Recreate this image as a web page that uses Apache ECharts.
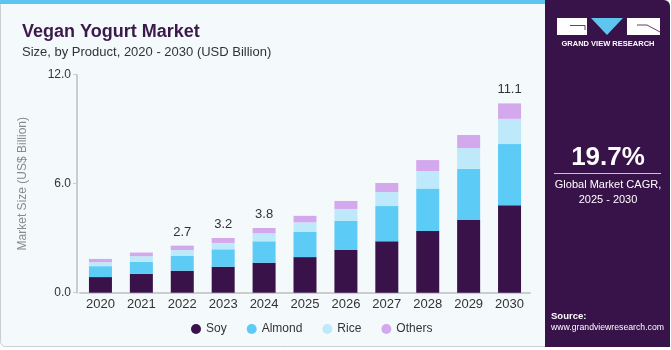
<!DOCTYPE html>
<html>
<head>
<meta charset="utf-8">
<script src="https://cdn.jsdelivr.net/npm/echarts@6/dist/echarts.min.js"></script>
<style>
  html, body { margin: 0; padding: 0; background: #ffffff; }
  #chart { width: 671px; height: 350px; }
</style>
</head>
<body>
<div id="chart"></div>
<script>
// Vegan yogurt market by product (USD billion)
const years = ["2020", "2021", "2022", "2023", "2024", "2025", "2026", "2027", "2028", "2029", "2030"];
const soy = [0.86, 1.04, 1.21, 1.43, 1.65, 1.96, 2.35, 2.83, 3.40, 4.00, 4.81];
const almond = [0.60, 0.66, 0.81, 0.96, 1.18, 1.38, 1.60, 1.94, 2.33, 2.82, 3.37];
const rice = [0.22, 0.31, 0.33, 0.35, 0.44, 0.53, 0.66, 0.77, 0.97, 1.14, 1.39];
const others = [0.18, 0.20, 0.24, 0.27, 0.29, 0.36, 0.44, 0.50, 0.60, 0.72, 0.85];
// printed totals above selected bars
const totalLabels = ["", "", "2.7", "3.2", "3.8", "", "", "", "", "", "11.1"];
const yTicks = [0, 6, 12];

const FONT = "'Liberation Sans', Arial, sans-serif";
const colors = { soy: "#381249", almond: "#5ccbf6", rice: "#bee9fa", others: "#d4a8ec" };

const chart = echarts.init(document.getElementById("chart"));

const bar = (name, data, color) => ({
  name,
  type: "bar",
  stack: "total",
  barWidth: 23,
  data,
  itemStyle: { color },
  emphasis: { disabled: true },
});

const othersSeries = bar("Others", others, colors.others);
othersSeries.label = {
  show: true,
  position: "top",
  distance: 7,
  color: "#333333",
  fontFamily: FONT,
  fontSize: 13,
  formatter: (p) => totalLabels[p.dataIndex],
};

chart.setOption({
  backgroundColor: "#ffffff",
  animation: false,
  textStyle: { fontFamily: FONT },
  title: [
    {
      text: "Vegan Yogurt Market",
      left: 17, top: 18,
      textStyle: { fontFamily: FONT, fontSize: 18, fontWeight: "bold", color: "#3b1a4b" },
    },
    {
      text: "Size, by Product, 2020 - 2030 (USD Billion)",
      left: 17, top: 41,
      textStyle: { fontFamily: FONT, fontSize: 13, fontWeight: "normal", color: "#333333" },
    },
  ],
  graphic: [
    // card background and top stripe
    { type: "rect", z: -10, shape: { x: 0.5, y: 0.5, width: 560, height: 346, r: 5 },
      style: { fill: "#f4f9fc", stroke: "#c9ced3", lineWidth: 1 } },
    { type: "rect", z: -9, shape: { x: 0, y: 0, width: 560, height: 4 }, style: { fill: "#5ec6ee" } },
    // right panel
    { type: "rect", z: -8, shape: { x: 545, y: 0, width: 125, height: 347, r: [0, 6, 0, 0] },
      style: { fill: "#381349" } },
    // logo
    { type: "rect", shape: { x: 557, y: 18, width: 30, height: 17 }, style: { fill: "#ffffff" } },
    { type: "polyline", shape: { points: [[570, 25.5], [585, 25.5], [585, 30]] },
      style: { stroke: "#381349", lineWidth: 0.8, fill: null } },
    { type: "polygon", shape: { points: [[591, 18], [623, 18], [607, 35]] }, style: { fill: "#5ec6ee" } },
    { type: "rect", shape: { x: 627, y: 18, width: 33, height: 17 }, style: { fill: "#ffffff" } },
    { type: "polyline", shape: { points: [[637, 25], [647, 25], [660, 32]] },
      style: { stroke: "#381349", lineWidth: 0.8, fill: null } },
    { type: "text", style: { x: 608, y: 44, text: "GRAND VIEW RESEARCH", align: "center", verticalAlign: "middle",
      fill: "#ffffff", font: "bold 7.5px " + FONT } },
    // CAGR
    { type: "text", style: { x: 608, y: 158, text: "19.7%", align: "center", verticalAlign: "middle",
      fill: "#ffffff", font: "bold 26px " + FONT } },
    { type: "line", shape: { x1: 554, y1: 173.5, x2: 661, y2: 173.5 }, style: { stroke: "#c9c2cf", lineWidth: 1 } },
    { type: "text", style: { x: 608, y: 185, text: "Global Market CAGR,", align: "center", verticalAlign: "middle",
      fill: "#ffffff", font: "11px " + FONT } },
    { type: "text", style: { x: 608, y: 200, text: "2025 - 2030", align: "center", verticalAlign: "middle",
      fill: "#ffffff", font: "11px " + FONT } },
    // source
    { type: "text", style: { x: 551, y: 316, text: "Source:", verticalAlign: "middle",
      fill: "#ffffff", font: "bold 9.5px " + FONT } },
    { type: "text", style: { x: 551, y: 328, text: "www.grandviewresearch.com", verticalAlign: "middle",
      fill: "#ffffff", font: "8.7px " + FONT } },
  ],
  legend: {
    left: 186,
    top: 318,
    icon: "circle",
    itemWidth: 10,
    itemHeight: 10,
    itemGap: 20,
    textStyle: { fontFamily: FONT, fontSize: 12, color: "#333333" },
    data: ["Soy", "Almond", "Rice", "Others"],
  },
  grid: { left: 80, right: 141, top: 74.7, bottom: 57.3 },
  xAxis: {
    type: "category",
    data: years,
    axisLine: { lineStyle: { color: "#cccccc", width: 2 } },
    axisTick: { show: false },
    axisLabel: { color: "#333333", fontSize: 13, margin: 5, fontFamily: FONT },
  },
  yAxis: {
    type: "value",
    min: yTicks[0],
    max: yTicks[yTicks.length - 1],
    interval: yTicks[1] - yTicks[0],
    offset: 3,
    name: "Market Size (US$ Billion)",
    nameLocation: "middle",
    nameGap: 48,
    nameTextStyle: { color: "#8a8a8a", fontSize: 12, fontFamily: FONT },
    splitLine: { show: false },
    axisLine: { show: true, lineStyle: { color: "#cccccc", width: 2 } },
    axisTick: { show: true, length: 4, lineStyle: { color: "#cccccc" } },
    axisLabel: { color: "#333333", fontSize: 12, margin: 6, fontFamily: FONT,
      formatter: (v) => v.toFixed(1) },
  },
  series: [
    bar("Soy", soy, colors.soy),
    bar("Almond", almond, colors.almond),
    bar("Rice", rice, colors.rice),
    othersSeries,
  ],
});
</script>
</body>
</html>
